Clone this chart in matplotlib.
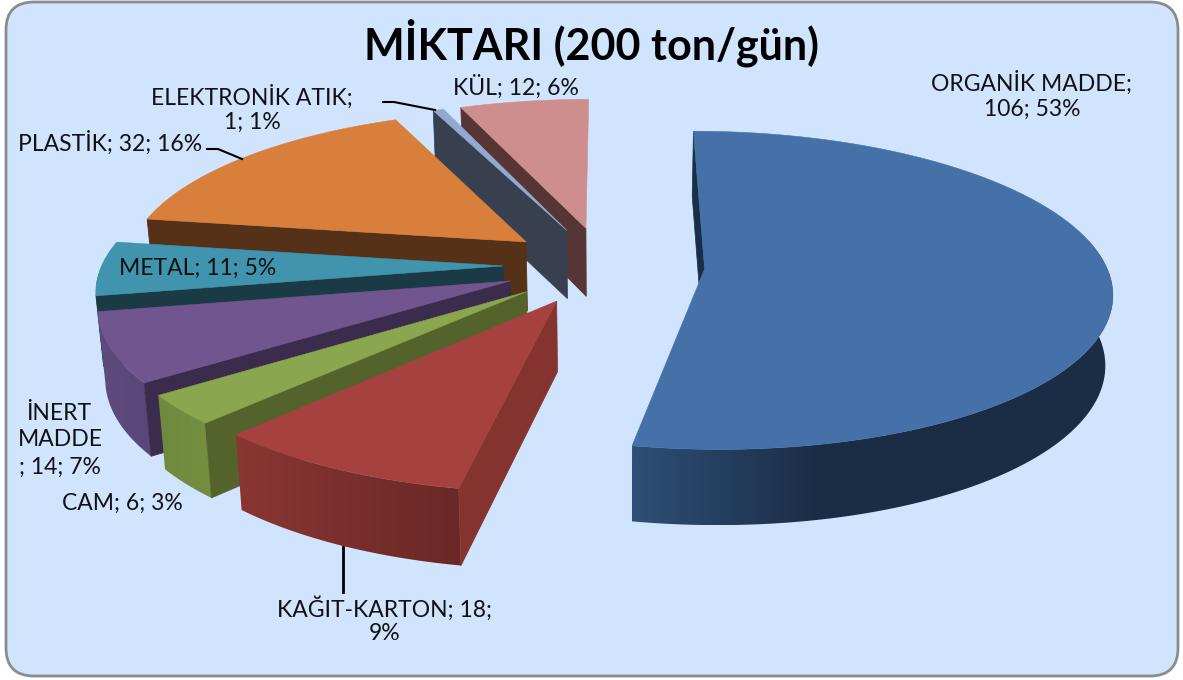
import numpy as np
import matplotlib
matplotlib.use('Agg')
import matplotlib.pyplot as plt
from matplotlib.colors import LinearSegmentedColormap
from matplotlib.patches import FancyBboxPatch, Polygon

plt.rcParams['font.family'] = ['Lato', 'DejaVu Sans']

# data
categories = ['ORGANİK MADDE', 'KAĞIT-KARTON', 'CAM', 'İNERT MADDE', 'METAL', 'PLASTİK', 'ELEKTRONİK ATIK', 'KÜL']
values = [106, 18, 6, 14, 11, 32, 1, 12]
percents = [53, 9, 3, 7, 5, 16, 1, 6]
title = 'MİKTARI (200 ton/gün)'

# colours per slice: top face, cut wall, rim left, rim right
top_colors = ['#4570A8', '#A5423F', '#8AA64E', '#71558E', '#4094AE', '#D77F3B', '#93A9CF', '#CE8E8D']
cut_colors = ['#1B2E47', '#85332F', '#54632B', '#3B2B4D', '#1A3A45', '#553217', '#38404F', '#553635']
rim_left = ['#2E4F77', '#8A3633', '#6F8A3E', '#5F4A7E', '#2E6C80', '#8A5020', '#38404F', '#553635']
rim_right = ['#1B2D45', '#692826', '#748F40', '#5A4678', '#2E6C80', '#8A5020', '#38404F', '#553635']
bg_color = '#D0E4FD'

# fake 3d camera, all in pixels of the picture
cam_x = 610
center_x = 604
center_y = 0.03
radius_x = 403
radius_y = 156.5
persp = 0.134
ground_y = 270
explode = 0.251
bottom_shrink = 0.985


def scale_at(y):
    return 1 / (1 + persp * y)


def top_points(x, y):
    s = scale_at(y)
    return cam_x + (x - cam_x) * s, ground_y - radius_y * y * s


def drop_points(x, y):
    # same point on the lower face of the pie
    sx, sy = top_points(x, y)
    s = scale_at(y)
    return cam_x + (sx - cam_x) * bottom_shrink, sy + 64 + 40 * (s - 0.86)


def draw_slice(ax, i, start, end, z):
    mid = (start + end) / 2
    apex_x = center_x + explode * radius_x * np.sin(mid)
    apex_y = center_y + explode * np.cos(mid)
    th = np.linspace(start, end, max(int(np.degrees(end - start)), 2) + 1)
    arc_x = apex_x + radius_x * np.sin(th)
    arc_y = apex_y + np.cos(th)

    tx, ty = top_points(arc_x, arc_y)
    bx, by = drop_points(arc_x, arc_y)

    # rim, a gradient image clipped to the rim outline (only the part facing us)
    front = arc_y < apex_y + 0.2
    if front.sum() > 1:
        ftx, fty, fbx, fby = tx[front], ty[front], bx[front], by[front]
        rim = list(zip(ftx, fty)) + list(zip(fbx[::-1], fby[::-1]))
        shade = np.linspace(0, 1, 256)
        if i == 0:
            shade = np.minimum(shade * 2.6, 1)
        cmap = LinearSegmentedColormap.from_list('rim', [rim_left[i], rim_right[i]])
        x_min, x_max = min(ftx.min(), fbx.min()), max(ftx.max(), fbx.max())
        y_min, y_max = min(fty.min(), fby.min()), max(fty.max(), fby.max())
        im = ax.imshow(shade[None, :], cmap=cmap, vmin=0, vmax=1, aspect='auto', interpolation='bilinear',
                       extent=[x_min, x_max, y_max, y_min], zorder=z)
        clip = Polygon(rim, closed=True, fc='none', ec='none', transform=ax.transData)
        ax.add_patch(clip)
        im.set_clip_path(clip)

    # cut wall on the start side
    a1 = top_points(apex_x, apex_y)
    a2 = drop_points(apex_x, apex_y)
    ax.add_patch(Polygon([a1, a2, (bx[0], by[0]), (tx[0], ty[0])], closed=True,
                         fc=cut_colors[i], ec=cut_colors[i], lw=0.5, zorder=z + 0.1))

    # top face
    pts = [a1] + list(zip(tx, ty))
    ax.add_patch(Polygon(pts, closed=True, fc=top_colors[i], ec=top_colors[i], lw=0.4, zorder=z + 0.2))


fig = plt.figure(figsize=(11.83, 6.8), dpi=100)
ax = fig.add_axes([0, 0, 1, 1])
ax.axis('off')

ax.add_patch(FancyBboxPatch((6, 2), 1172, 674, boxstyle='round,pad=0,rounding_size=28',
                            fc=bg_color, ec='#8C8C8C', lw=2, zorder=1))

angles = np.cumsum([0] + values) / sum(values) * 2 * np.pi

# back slices first, the front ones paint over them
draw_slice(ax, 0, angles[0], angles[1], 2)
for n, i in enumerate([7, 6, 5, 4, 3, 2, 1]):
    draw_slice(ax, i, angles[i], angles[i + 1], 3 + n)

ax.set_xlim(0, 1183)
ax.set_ylim(680, 0)

ax.plot([383, 394, 435], [102, 102, 110], color='black', lw=1.5, zorder=20)
ax.plot([207, 218, 242], [149, 149, 159], color='black', lw=1.5, zorder=20)
ax.plot([343, 343], [543, 592], color='black', lw=2, zorder=1.5)

ax.text(592, 43, title, ha='center', va='center', fontsize=31, fontweight='bold', color='black', zorder=30)

label_size = 16.5
ink = '#111111'
labels = [
    (1032, 83, f'{categories[0]};'),
    (1032, 109, f'{values[0]}; {percents[0]}%'),
    (385, 609, f'{categories[1]}; {values[1]};'),
    (385, 634, f'{percents[1]}%'),
    (122, 503, f'{categories[2]}; {values[2]}; {percents[2]}%'),
    (59, 414, categories[3].split()[0]),
    (60, 440, categories[3].split()[1]),
    (60, 467, f'; {values[3]}; {percents[3]}%'),
    (198, 268, f'{categories[4]}; {values[4]}; {percents[4]}%'),
    (110, 143, f'{categories[5]}; {values[5]}; {percents[5]}%'),
    (252, 97, f'{categories[6]};'),
    (252, 122, f'{values[6]}; {percents[6]}%'),
    (516, 87, f'{categories[7]}; {values[7]}; {percents[7]}%'),
]
for x, y, s in labels:
    ax.text(x, y, s, ha='center', va='center', fontsize=label_size, color=ink, zorder=30)

fig.savefig('out.png', dpi=100)
